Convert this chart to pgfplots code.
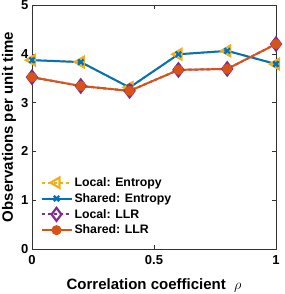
\documentclass[border=0pt]{standalone}
\usepackage{pgfplots}
\pgfplotsset{compat=1.18}
\usepackage{fontspec}
\setmainfont{Liberation Sans}
\definecolor{mblue}{rgb}{0,0.447,0.741}
\definecolor{morange}{rgb}{0.85,0.325,0.098}
\definecolor{myellow}{rgb}{0.929,0.694,0.125}
\definecolor{mpurple}{rgb}{0.494,0.184,0.556}
\begin{document}
\begin{tikzpicture}
\begin{axis}[
  scale only axis, width=244pt, height=244pt,
  xmin=0, xmax=1, ymin=0, ymax=5,
  xtick={0,0.5,1}, xticklabels={0,0.5,1},
  ytick={0,1,2,3,4,5}, yticklabels={0,1,2,3,4,5},
  tick align=inside, major tick length=4pt,
  tick style={black!80, line width=0.5pt},
  axis line style={black!80, line width=0.5pt},
  ticklabel style={font=\fontsize{13}{14}\selectfont\bfseries},
  xticklabel style={yshift=-3pt},
  label style={font=\fontsize{15}{16}\selectfont\bfseries},
  xlabel={Correlation coefficient \ $\rho$},
  ylabel={Observations per unit time},
  xlabel style={at={(axis description cs:0.5,-0.168)}, anchor=base},
  ylabel style={at={(axis description cs:-0.078,0.5)}, anchor=base},
  legend cell align=left,
  legend style={at={(rel axis cs:0.03,0.306)}, anchor=north west, draw=none, fill=none,
    font=\fontsize{12.3}{13}\selectfont\bfseries, row sep=1.4pt,
    inner sep=1pt},
  legend image code/.code={\draw[mark repeat=2,mark phase=2] plot coordinates {(0pt,0pt) (15pt,0pt) (30pt,0pt)};},
]
\addplot[myellow, line width=2pt, dashed, mark=triangle, mark options={solid, rotate=90, line width=2.2pt}, mark size=6pt]
  coordinates {(0,3.87) (0.2,3.83) (0.4,3.31) (0.6,3.99) (0.8,4.06) (1,3.79)};
\addlegendentry{Local: Entropy}
\addplot[mblue, line width=2pt, mark=x, mark options={solid, line width=2.2pt}, mark size=3.8pt]
  coordinates {(0,3.87) (0.2,3.83) (0.4,3.31) (0.6,3.99) (0.8,4.06) (1,3.79)};
\addlegendentry{Shared: Entropy}
\addplot[mpurple, line width=2pt, dashed, mark=diamond, mark options={solid, line width=2.2pt}, mark size=6.5pt]
  coordinates {(0,3.52) (0.2,3.34) (0.4,3.24) (0.6,3.67) (0.8,3.69) (1,4.20)};
\addlegendentry{Local: LLR}
\addplot[morange, line width=2pt, mark=*, mark options={solid}, mark size=4pt]
  coordinates {(0,3.52) (0.2,3.34) (0.4,3.24) (0.6,3.67) (0.8,3.69) (1,4.20)};
\addlegendentry{Shared: LLR}
\end{axis}
\pgfresetboundingbox
\path[use as bounding box] ([xshift=-32pt,yshift=-45pt]current axis.south west) rectangle ([xshift=8pt,yshift=5pt]current axis.north east);
\end{tikzpicture}
\end{document}
